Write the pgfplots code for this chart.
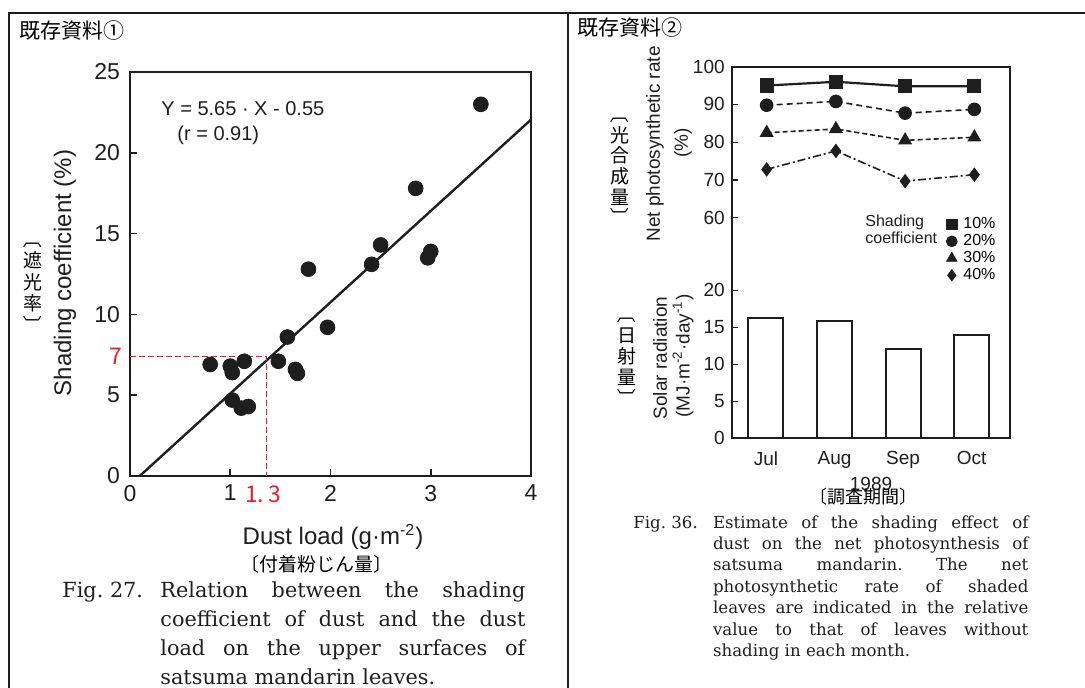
\documentclass[border=0pt]{standalone}
\usepackage{pgfplots}
\pgfplotsset{compat=1.18}
\usepackage{graphicx}
\usepackage{fontspec}
\setmainfont{DejaVu Serif}
\setsansfont{Liberation Sans}
\newfontfamily\jp{Noto Sans CJK JP}
\definecolor{redline}{RGB}{232,32,38}
\definecolor{ink}{RGB}{30,30,30}
% brackets for vertical Japanese labels
\newcommand{\vopen}{\rotatebox[origin=c]{-90}{〔}}
\newcommand{\vclose}{\rotatebox[origin=c]{-90}{〕}}

\begin{document}
\begin{tikzpicture}[x=0.5pt,y=-0.5pt]
\useasboundingbox (0,0) rectangle (1085,688);
% table frame
\draw[line width=1pt, ink] (9,688) -- (9,13) -- (1085,13);
\draw[line width=1pt, ink] (568,13) -- (568,688);
\node[anchor=west, inner sep=0, font=\jp\fontsize{10.5}{12}\selectfont] at (19,31) {既存資料①};
\node[anchor=west, inner sep=0, font=\jp\fontsize{10.5}{12}\selectfont] at (577,28) {既存資料②};

% ---- Fig. 27: shading coefficient vs dust load
\begin{axis}[
    at={(65pt,-238pt)}, anchor=south west, scale only axis,
    width=200.5pt, height=202pt,
    xmin=0, xmax=4, ymin=0, ymax=25,
    xtick={0,1,2,3,4}, ytick={0,5,10,15,20,25},
    xtick pos=bottom, ytick pos=left,
    axis line style={ink, line width=1.2pt},
    tick style={ink, line width=0.8pt}, tick align=inside, major tick length=3.5pt,
    /pgf/number format/assume math mode=true,
    ticklabel style={font=\sffamily\fontsize{11.5}{12}\selectfont, text=ink},
    yticklabel style={xshift=-1.5pt}, xticklabel style={yshift=-1pt},
    clip=false
]
\addplot[only marks, mark=*, mark size=3.7pt, ink] coordinates {
    (3.50,23.0) (2.85,17.8) (2.50,14.3) (2.41,13.1) (3.00,13.9)
    (2.97,13.5) (1.78,12.8) (1.97,9.2) (1.57,8.6) (1.48,7.1)
    (1.65,6.6) (1.67,6.35) (1.14,7.1) (0.80,6.9) (1.00,6.8)
    (1.02,6.4) (1.02,4.7) (1.11,4.2) (1.18,4.3)
};
\addplot[ink, line width=1.2pt] coordinates {(0.097,0) (4,22.05)};
\addplot[redline, line width=0.7pt, dash pattern=on 3pt off 1.5pt] coordinates {(0,7.4) (1.36,7.4) (1.36,0)};
\end{axis}

\node[anchor=west, inner sep=0, font=\sffamily\fontsize{10}{12}\selectfont, text=ink] at (161,109) {Y = 5.65 · X - 0.55};
\node[anchor=west, inner sep=0, font=\sffamily\fontsize{10}{12}\selectfont, text=ink] at (177,135) {(r = 0.91)};
\node[anchor=east, inner sep=0, text=redline, font=\jp\fontsize{11.5}{12}\selectfont] at (123,356) {7};
\node[inner sep=0, text=redline, font=\jp\fontsize{11.5}{12}\selectfont] at (263,494) {1.\,3};
\node[rotate=90, inner sep=0, font=\sffamily\fontsize{12}{12}\selectfont, text=ink] at (65,273) {Shading coefficient (\%)};
\node[align=center, inner sep=0, font=\jp\fontsize{9.5}{10.8}\selectfont] at (33,282) {\vopen\\遮\\光\\率\\\vclose};
\node[inner sep=0, font=\sffamily\fontsize{12}{12}\selectfont, text=ink] at (333,537) {Dust load (g·m\textsuperscript{-2})};
\node[inner sep=0, font=\jp\fontsize{9.5}{10}\selectfont] at (316,564) {〔付着粉じん量〕};
\node[anchor=north west, inner sep=0, text width=231.5pt, align=justify, text=ink,
      font=\fontsize{10.4}{14.5}\selectfont] at (62,581)
  {\frenchspacing\hyphenpenalty=10000\hangindent=49pt\hangafter=1\noindent\makebox[49pt][l]{Fig. 27.}Relation between the shading\linebreak
   coefficient of dust and the dust\linebreak load on the upper surfaces of\linebreak satsuma mandarin leaves.\par};

% ---- Fig. 36: solar radiation (bars)
\begin{axis}[
    at={(365.85pt,-219.15pt)}, anchor=south west, scale only axis,
    width=139.15pt, height=185.8pt,
    xmin=-0.5, xmax=3.56, ymin=0, ymax=50.2,
    xtick={0,1,2,3}, xticklabels={Jul,Aug,Sep,Oct},
    ytick={0,5,10,15,20}, ytick pos=left,
    ybar, bar width=17.5pt,
    axis line style={ink, line width=1pt},
    x tick style={draw=none},
    y tick style={ink, line width=0.7pt}, tick align=inside, major tick length=3pt,
    /pgf/number format/assume math mode=true,
    ticklabel style={font=\sffamily\fontsize{9.5}{10}\selectfont, text=ink},
    xticklabel style={yshift=-3pt}
]
\addplot[draw=ink, fill=white, line width=1pt] coordinates {(0,16.2) (1,15.9) (2,12.0) (3,13.9)};
\end{axis}

% ---- Fig. 36: net photosynthetic rate (lines), same box
\begin{axis}[
    at={(365.85pt,-219.15pt)}, anchor=south west, scale only axis,
    width=139.15pt, height=185.8pt,
    xmin=-0.5, xmax=3.56, ymin=1.6, ymax=100,
    hide x axis, y axis line style={draw=none},
    ytick={60,70,80,90,100}, ytick pos=left,
    y tick style={ink, line width=0.7pt}, tick align=inside, major tick length=3pt,
    /pgf/number format/assume math mode=true,
    ticklabel style={font=\sffamily\fontsize{9.5}{10}\selectfont, text=ink},
    legend style={at={(0.77,0.599)}, anchor=north west, draw=none, fill=none,
        font=\sffamily\fontsize{8}{8}\selectfont, inner sep=0pt, row sep=0.2pt,
        nodes={inner sep=0.6pt},
        /tikz/every odd column/.append style={column sep=2.5pt}},
    legend cell align=left
]
\addlegendimage{only marks, mark=square*, mark size=2.7pt, ink}
\addlegendentry{10\%}
\addlegendimage{only marks, mark=*, mark size=2.7pt, ink}
\addlegendentry{20\%}
\addlegendimage{only marks, mark=triangle*, mark size=3pt, ink}
\addlegendentry{30\%}
\addlegendimage{only marks, mark=diamond*, mark size=2.8pt, ink}
\addlegendentry{40\%}
\addplot[forget plot, ink, line width=1.1pt, mark=square*, mark size=3pt] coordinates {
    (0.01,95.0) (1.02,96.0) (2.03,94.8) (3.04,94.8)};
\addplot[forget plot, ink, line width=0.8pt, dash pattern=on 3pt off 2pt, mark=*, mark size=3pt, mark options={solid}] coordinates {
    (0.01,89.8) (1.02,90.8) (2.03,87.7) (3.04,88.7)};
\addplot[forget plot, ink, line width=0.8pt, dash pattern=on 2.5pt off 1.5pt, mark=triangle*, mark size=3.3pt, mark options={solid}] coordinates {
    (0.01,82.5) (1.02,83.5) (2.03,80.5) (3.04,81.3)};
\addplot[forget plot, ink, line width=0.8pt, dash pattern=on 4pt off 1.5pt on 1pt off 1.5pt, mark=diamond*, mark size=3pt, mark options={solid}] coordinates {
    (0.01,72.8) (1.02,77.7) (2.03,69.7) (3.04,71.4)};
\end{axis}

\node[anchor=north west, align=left, inner sep=0, text=ink, font=\sffamily\fontsize{8}{8.4}\selectfont] at (865,215) {Shading\\coefficient};
\node[rotate=90, inner sep=0, font=\sffamily\fontsize{9.5}{10}\selectfont, text=ink] at (655,144) {Net photosynthetic rate};
\node[rotate=90, inner sep=0, font=\sffamily\fontsize{9.5}{10}\selectfont, text=ink] at (683,143) {(\%)};
\node[align=center, inner sep=0, font=\jp\fontsize{9.5}{10.3}\selectfont] at (620,166) {\vopen\\光\\合\\成\\量\\\vclose};
\node[rotate=90, inner sep=0, font=\sffamily\fontsize{9.5}{10}\selectfont, text=ink] at (660,358) {Solar radiation};
\node[rotate=90, inner sep=0, font=\sffamily\fontsize{9.5}{10}\selectfont, text=ink] at (683,356) {(MJ·m\textsuperscript{-2}·day\textsuperscript{-1})};
\node[align=center, inner sep=0, font=\jp\fontsize{9.5}{10.5}\selectfont] at (627,356) {\vopen\\日\\射\\量\\\vclose};
\node[inner sep=0, font=\sffamily\fontsize{9.5}{10}\selectfont, text=ink] at (871,484) {1989};
\node[inner sep=0, font=\jp\fontsize{9}{10}\selectfont] at (863,497) {〔調査期間〕};
\node[anchor=north west, inner sep=0, text width=197.5pt, align=justify, text=ink,
      font=\fontsize{8.3}{10.7}\selectfont] at (633,515)
  {\frenchspacing\hyphenpenalty=10000\hangindent=39.85pt\hangafter=1\noindent\makebox[39.85pt][l]{Fig. 36.}Estimate of the shading effect of\linebreak
   dust on the net photosynthesis of\linebreak satsuma mandarin. The net\linebreak photosynthetic rate of shaded\linebreak
   leaves are indicated in the relative\linebreak value to that of leaves without\linebreak shading in each month.\par};
\end{tikzpicture}
\end{document}
